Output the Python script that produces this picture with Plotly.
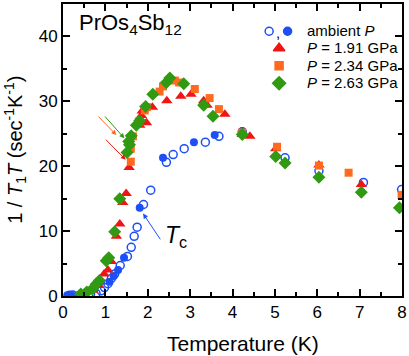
import plotly.graph_objects as go

# ambient pressure, open circles
amb_open_T = [0.15, 0.23, 0.5, 0.65, 0.78, 0.90, 0.98, 1.06, 1.14, 1.22, 1.35, 1.52, 1.61, 1.68, 1.75, 1.90, 2.07, 2.44, 2.60, 2.86, 3.36, 3.68, 4.23, 5.24, 6.04, 7.09, 7.99]
amb_open_v = [0.1, 0.15, 0.2, 0.3, 0.4, 0.8, 1.3, 1.9, 2.7, 3.4, 4.7, 6.1, 7.5, 9.2, 10.6, 14.1, 16.3, 20.6, 21.8, 22.7, 23.7, 24.6, 25.3, 21.3, 19.3, 17.5, 16.4]
# ambient pressure, filled circles
amb_fill_T = [0.1, 0.2, 0.35, 1.1, 1.2, 1.30, 1.44, 1.81, 2.36, 3.09, 3.58, 4.23]
amb_fill_v = [0.1, 0.1, 0.1, 2.2, 3.1, 4.0, 5.9, 13.6, 21.3, 23.7, 24.8, 25.4]
# P = 1.91 GPa
p191_T = [0.4, 0.51, 0.6, 0.70, 0.85, 0.97, 1.06, 1.14, 1.26, 1.34, 1.41, 1.49, 1.56, 1.81, 1.85, 1.87, 1.97, 2.11, 2.45, 2.78, 3.02, 3.32, 3.40, 3.82, 4.23, 4.41, 5.02, 6.04, 7.04]
p191_v = [0.3, 0.5, 0.7, 0.9, 1.6, 3.4, 4.0, 5.3, 9.2, 11.1, 14.4, 15.8, 19.8, 26.3, 27.8, 28.5, 26.7, 29.1, 30.1, 30.8, 31.1, 30.1, 29.4, 28.0, 24.9, 24.6, 22.7, 20.2, 17.2]
# P = 2.34 GPa
p234_T = [1.60, 1.60, 1.65, 1.79, 1.93, 1.98, 2.28, 2.36, 2.64, 2.74, 3.11, 3.46, 3.68, 4.23, 5.05, 6.04, 6.74, 7.99]
p234_v = [20.7, 22.7, 24.6, 26.9, 28.6, 29.1, 31.5, 32.3, 33.2, 32.9, 31.9, 30.5, 28.8, 25.2, 23.0, 20.1, 19.0, 15.6]
# P = 2.63 GPa
p263_T = [0.42, 0.56, 0.70, 0.78, 0.86, 1.02, 1.08, 1.22, 1.34, 1.51, 1.57, 1.55, 1.61, 1.73, 1.81, 1.95, 2.12, 2.44, 2.52, 2.85, 3.32, 3.54, 4.23, 5.02, 5.24, 6.04, 7.04, 7.94]
p263_v = [0.3, 0.6, 1.1, 1.8, 2.4, 5.45, 5.9, 9.9, 15.0, 22.1, 23.3, 23.8, 24.7, 26.3, 27.0, 29.2, 31.1, 32.9, 33.6, 32.7, 29.4, 27.7, 24.9, 21.5, 20.5, 18.3, 16.0, 13.6]

x_ticks = [0, 1, 2, 3, 4, 5, 6, 7, 8]
y_ticks = [0, 10, 20, 30, 40]

BLUE = "#1c4ff5"
RED = "#f01414"
ORANGE = "#ff6a1f"
GREEN = "#2f9a12"
FONT = "Liberation Sans, Arial, sans-serif"

fig = go.Figure()
fig.add_trace(go.Scatter(x=amb_open_T, y=amb_open_v, mode="markers",
                         marker=dict(symbol="circle-open", size=8, color=BLUE, line=dict(width=1.5, color=BLUE))))
fig.add_trace(go.Scatter(x=amb_fill_T, y=amb_fill_v, mode="markers",
                         marker=dict(symbol="circle", size=8, color=BLUE)))
fig.add_trace(go.Scatter(x=p191_T, y=p191_v, mode="markers",
                         marker=dict(symbol="triangle-up", size=10, color=RED)))
fig.add_trace(go.Scatter(x=p234_T, y=p234_v, mode="markers",
                         marker=dict(symbol="square", size=8, color=ORANGE)))
fig.add_trace(go.Scatter(x=p263_T, y=p263_v, mode="markers",
                         marker=dict(symbol="diamond", size=10, color=GREEN)))

# manual legend symbols (positions in axis units)
leg_x = [4.865, 5.30, 5.10, 5.10, 5.10]
leg_y = [40.8, 40.8, 38.17, 35.48, 32.78]
leg_sym = ["circle-open", "circle", "triangle-up", "square", "diamond"]
leg_col = [BLUE, BLUE, RED, ORANGE, GREEN]
leg_size = [8, 8, 10, 8, 10]
for lx, ly, s, c, sz in zip(leg_x, leg_y, leg_sym, leg_col, leg_size):
    fig.add_trace(go.Scatter(x=[lx], y=[ly], mode="markers",
                             marker=dict(symbol=s, size=sz, color=c, line=dict(width=1.5, color=c))))

leg_text = ["ambient <i>P</i>", "<i>P</i> = 1.91 GPa", "<i>P</i> = 2.34 GPa", "<i>P</i> = 2.63 GPa"]
leg_ty = [0.909, 0.850, 0.790, 0.730]
anns = []
for t, ty in zip(leg_text, leg_ty):
    anns.append(dict(x=0.713, y=ty, xref="paper", yref="paper", text=t, showarrow=False,
                     xanchor="left", yanchor="middle", font=dict(size=15, color="black", family=FONT)))
anns.append(dict(x=0.635, y=0.903, xref="paper", yref="paper", text=",", showarrow=False,
                 xanchor="center", yanchor="middle", font=dict(size=15, color="black", family=FONT)))
anns.append(dict(x=0.042, y=0.93, xref="paper", yref="paper", text="PrOs<sub>4</sub>Sb<sub>12</sub>",
                 showarrow=False, xanchor="left", yanchor="middle", font=dict(size=22, color="black", family=FONT)))
# arrows
arrows = [((1.26, 24.8), (0.80, 27.9), ORANGE),
          ((1.45, 24.3), (0.96, 27.9), GREEN),
          ((1.48, 21.0), (0.98, 24.3), RED),
          ((1.89, 12.7), (2.32, 8.5), BLUE)]
for (tx, ty), (sx, sy), c in arrows:
    anns.append(dict(x=tx, y=ty, ax=sx, ay=sy, xref="x", yref="y", axref="x", ayref="y",
                     text="", showarrow=True, arrowhead=2, arrowsize=1, arrowwidth=1, arrowcolor=c))
anns.append(dict(x=2.67, y=9.2, xref="x", yref="y", text="<i>T</i><sub>c</sub>", showarrow=False,
                 xanchor="center", yanchor="middle", font=dict(size=23, color="black", family=FONT)))
# axis titles
anns.append(dict(x=0.531, y=-0.163, xref="paper", yref="paper", text="Temperature (K)", showarrow=False,
                 xanchor="center", yanchor="middle", font=dict(size=21, color="black", family=FONT)))
anns.append(dict(x=-0.142, y=0.5, xref="paper", yref="paper",
                 text="1 / <i>T</i><sub>1</sub><i>T</i> (sec<sup>-1</sup>K<sup>-1</sup>)", showarrow=False,
                 textangle=-90, xanchor="center", yanchor="middle", font=dict(size=20, color="black", family=FONT)))

axis_common = dict(showline=True, linecolor="black", linewidth=2, mirror="allticks", ticks="inside",
                   tickcolor="black", tickwidth=2, ticklen=7, showgrid=False, zeroline=False,
                   tickfont=dict(size=17, color="black", family=FONT))
fig.update_layout(
    width=409, height=356, margin=dict(l=63, r=7, t=2, b=60),
    paper_bgcolor="white", plot_bgcolor="white", showlegend=False,
    font=dict(family=FONT, color="black"),
    xaxis=dict(range=[0, 8], tickvals=x_ticks, ticktext=[str(v) for v in x_ticks],
               minor=dict(dtick=0.5, ticks="inside", ticklen=4, tickcolor="black", tickwidth=1.5), **axis_common),
    yaxis=dict(range=[0, 45], tickvals=y_ticks, ticktext=[str(v) for v in y_ticks],
               minor=dict(dtick=5, ticks="inside", ticklen=4, tickcolor="black", tickwidth=1.5), **axis_common),
    annotations=anns,
)
fig.write_html("out.html", config={"displayModeBar": False},
               post_script="document.body.style.margin='0';document.body.style.overflow='hidden';")
